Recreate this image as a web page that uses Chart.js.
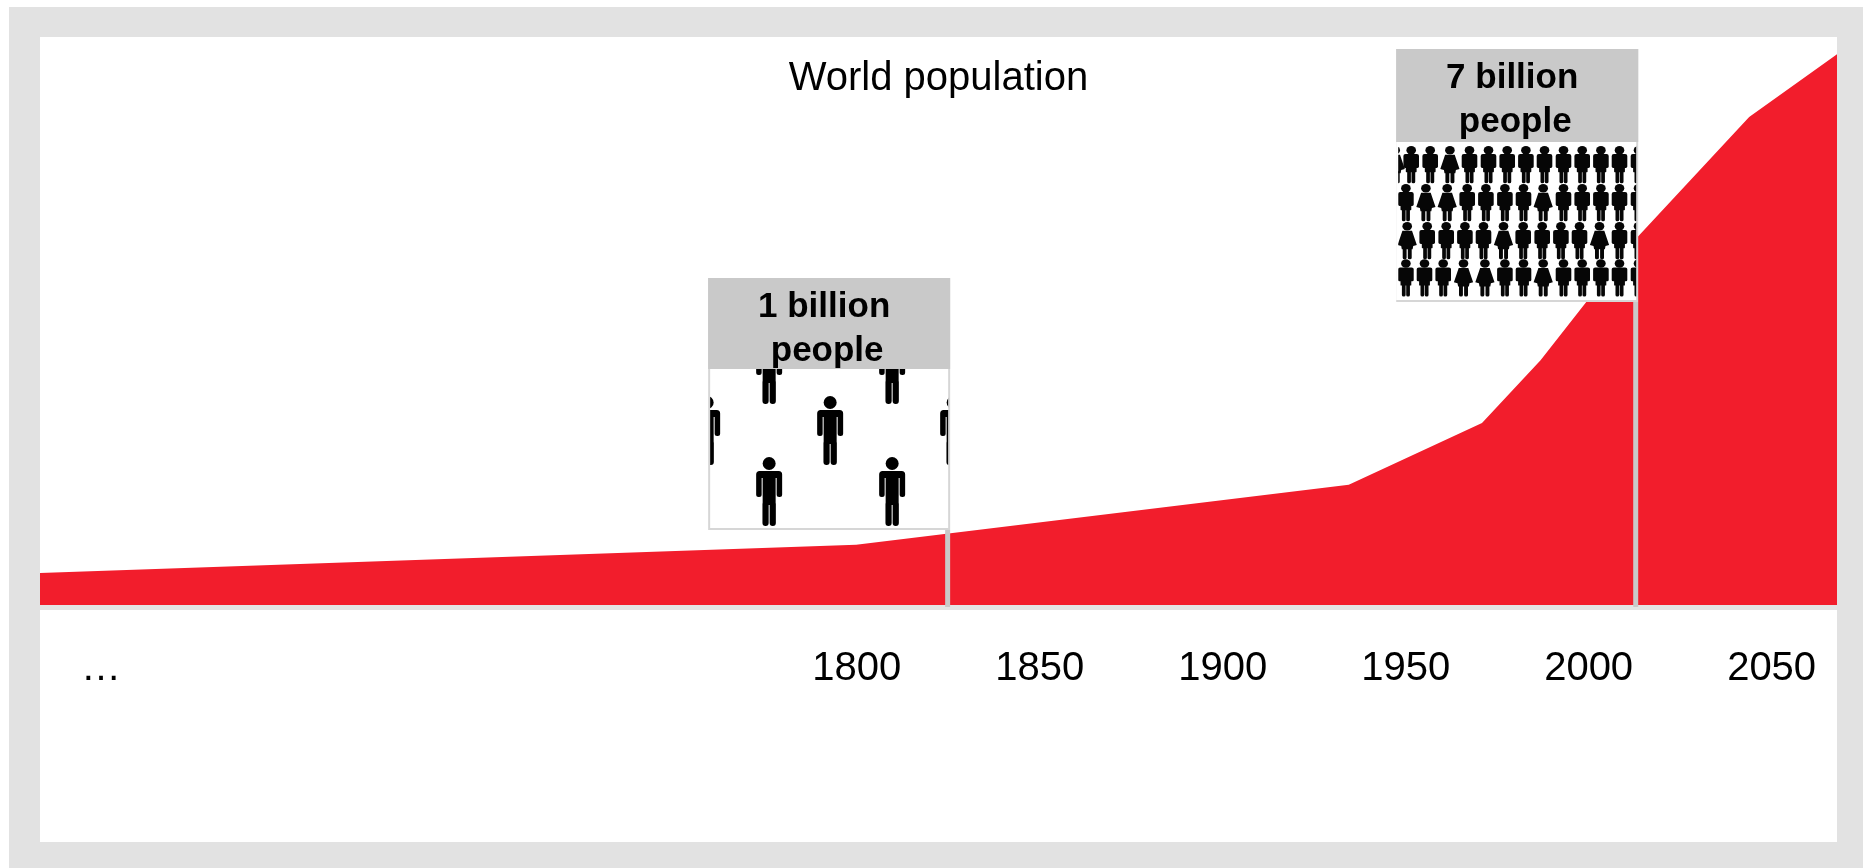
<!DOCTYPE html>
<html>
<head>
<meta charset="utf-8">
<title>World population</title>
<script src="https://cdn.jsdelivr.net/npm/chart.js@4/dist/chart.umd.min.js"></script>
<style>
  html, body { margin: 0; padding: 0; background: #fff; overflow: hidden; }
  body { width: 1863px; height: 868px; position: relative; }
  #frame { position: absolute; left: 9px; top: 7px; right: 0; bottom: 0; background: #e2e2e2; }
  #panel { position: absolute; left: 40px; top: 37px; width: 1797px; height: 805px; background: #fff; }
  #panel canvas { display: block; }
</style>
</head>
<body>
<div id="frame"></div>
<div id="panel"><canvas id="chart" width="1797" height="805"></canvas></div>
<script>
// World population over time, in billions
const years = [1577, 1800, 1934.6, 1971, 1987, 2013, 2044, 2068];
const population = [0.61, 1.15, 2.3, 3.48, 4.68, 7.0, 9.33, 10.53];

// Axis labels; the far left of the axis is a break shown as an ellipsis
const tickYears = [1593.5, 1800, 1850, 1900, 1950, 2000, 2050];
const tickLabels = ['…', '1800', '1850', '1900', '1950', '2000', '2050'];

// Milestone callouts
const milestoneYears = [1825, 2013];
const milestoneLines = [['1 billion', 'people'], ['7 billion', 'people']];

const RED = '#f21d2c';
const GREY = '#c9c9c9';
const FONT = '"Liberation Sans", Arial, sans-serif';

// A standing figure 26 wide and 69 tall, centred on x = 0, with y = 0 at the crown
function person(ctx, female, headRadius, torso) {
  ctx.beginPath();
  ctx.arc(0, 6.5, headRadius, 0, Math.PI * 2);
  ctx.fill();
  if (female) {
    ctx.beginPath();
    ctx.moveTo(-8, 15);
    ctx.lineTo(8, 15);
    ctx.lineTo(16, 42);
    ctx.lineTo(10, 44);
    ctx.lineTo(9, 50);
    ctx.lineTo(-9, 50);
    ctx.lineTo(-10, 44);
    ctx.lineTo(-16, 42);
    ctx.closePath();
    ctx.fill();
    ctx.beginPath();
    ctx.roundRect(-7.5, 46, 6.5, 23, 3);
    ctx.roundRect(1, 46, 6.5, 23, 3);
    ctx.fill();
    return;
  }
  ctx.beginPath();
  ctx.roundRect(-13, 14, 26, 7, 4);
  ctx.roundRect(-13, 15, 5.5, 25, 2.5);
  ctx.roundRect(7.5, 15, 5.5, 25, 2.5);
  ctx.roundRect(-torso, 14, torso * 2, 34, 1);
  ctx.roundRect(-6.7, 44, 6.2, 25, 3);
  ctx.roundRect(0.5, 44, 6.2, 25, 3);
  ctx.fill();
}

function sparseCrowd(ctx, left, top, width, height) {
  ctx.save();
  ctx.beginPath();
  ctx.rect(left, top, width, height);
  ctx.clip();
  ctx.fillStyle = '#000';
  const rows = [
    { y: -34, xs: [59, 182] },
    { y: 27, xs: [-3, 120, 243] },
    { y: 88, xs: [59, 182] }
  ];
  rows.forEach(r => r.xs.forEach(x => {
    ctx.save();
    ctx.translate(left + x, top + r.y);
    person(ctx, false, 6.5, 6.5);
    ctx.restore();
  }));
  ctx.restore();
}

function denseCrowd(ctx, left, top, width, height) {
  ctx.save();
  ctx.beginPath();
  ctx.rect(left, top, width, height);
  ctx.clip();
  ctx.fillStyle = '#060606';
  ctx.filter = 'blur(0.4px)';
  const tail = [165.3, 184, 202.7, 221.3, 240.3];
  const rows = [
    { y: 4.7, xs: [-3, 13, 32, 51.7, 71.3, 90.3, 109, 127.7, 146.3, ...tail], f: [0, 3] },
    { y: 42.7, xs: [7.7, 27.7, 49, 69, 87.7, 106.7, 125.3, 145, ...tail], f: [1, 2, 7] },
    { y: 80.7, xs: [9, 29, 48, 66.7, 85.3, 105.3, 125, 144, 162.7, 181.3, 201.3, 221.3, 240.3], f: [0, 5, 10] },
    { y: 118, xs: [7.7, 26.3, 45, 65.3, 86.7, 106.7, 125.3, 145, ...tail], f: [3, 4, 7] }
  ];
  rows.forEach(r => r.xs.forEach((x, i) => {
    ctx.save();
    ctx.translate(left + x, top + r.y);
    ctx.scale(0.6, 0.53);
    person(ctx, r.f.includes(i), 8, 9);
    ctx.restore();
  }));
  ctx.restore();
}

const callouts = {
  id: 'callouts',
  afterDatasetsDraw(chart) {
    const { ctx, scales: { x, y } } = chart;
    const boxes = [
      { top: 241, bottom: 493, head: 332, inset: 2, crowd: sparseCrowd },
      { top: 12, bottom: 265, head: 105, inset: 0, crowd: denseCrowd }
    ];
    ctx.save();
    milestoneYears.forEach((year, i) => {
      const b = boxes[i];
      const px = x.getPixelForValue(year);
      const right = px + 2.5;
      const left = right - 242;

      // Drop line from the box to the axis
      ctx.fillStyle = GREY;
      ctx.fillRect(px - 2.5, b.bottom, 5, y.getPixelForValue(0) - b.bottom + 2);

      // Box: outline, header band, white crowd area
      ctx.fillStyle = '#d6d6d6';
      ctx.fillRect(left, b.top, 242, b.bottom - b.top);
      ctx.fillStyle = GREY;
      ctx.fillRect(left, b.top, 242, b.head - b.top);
      ctx.fillStyle = '#fff';
      const innerWidth = 240 - b.inset;
      ctx.fillRect(left + b.inset, b.head, innerWidth, b.bottom - b.head - 2);
      b.crowd(ctx, left + 2, b.head, 238, b.bottom - b.head - 2);

      // Header text
      ctx.fillStyle = '#000';
      ctx.font = 'bold 35px ' + FONT;
      ctx.textAlign = 'center';
      ctx.textBaseline = 'middle';
      const cx = left + 116;
      ctx.fillText(milestoneLines[i][0], cx, b.top + 29);
      ctx.fillText(milestoneLines[i][1], cx + 3, b.top + 73);
    });

    ctx.fillStyle = '#000';
    ctx.font = '40px ' + FONT;
    ctx.textAlign = 'center';
    ctx.textBaseline = 'middle';
    ctx.fillText('World population', chart.width / 2, 42);
    ctx.restore();
  }
};

// Pale band along the baseline, under the drop lines
const baseline = {
  id: 'baseline',
  beforeDatasetsDraw(chart) {
    const { ctx, chartArea, scales: { y } } = chart;
    ctx.save();
    ctx.fillStyle = '#e4e4e4';
    ctx.fillRect(chartArea.left, y.getPixelForValue(0), chartArea.width, 5);
    ctx.restore();
  }
};

new Chart(document.getElementById('chart'), {
  type: 'line',
  plugins: [baseline, callouts],
  data: {
    datasets: [{
      data: years.map((yr, i) => ({ x: yr, y: population[i] })),
      fill: 'origin',
      backgroundColor: RED,
      borderWidth: 0,
      pointRadius: 0,
      tension: 0
    }]
  },
  options: {
    responsive: false,
    animation: false,
    layout: { padding: 0 },
    plugins: { legend: { display: false }, tooltip: { enabled: false }, title: { display: false } },
    scales: {
      x: {
        type: 'linear',
        min: 1577,
        max: 2068,
        grid: { display: false, drawTicks: false },
        border: { display: false },
        afterBuildTicks(axis) { axis.ticks = tickYears.map(v => ({ value: v })); },
        afterFit(axis) {
          axis.height = 237;
          axis.paddingLeft = 0;
          axis.paddingRight = 0;
        },
        ticks: {
          autoSkip: false,
          maxRotation: 0,
          padding: 40,
          labelOffset: 0.5,
          color: '#000',
          font: { family: FONT, size: 40 },
          callback(value) { return tickLabels[tickYears.indexOf(value)]; }
        }
      },
      y: { display: false, min: 0, max: 10.86 }
    }
  }
});
</script>
</body>
</html>
